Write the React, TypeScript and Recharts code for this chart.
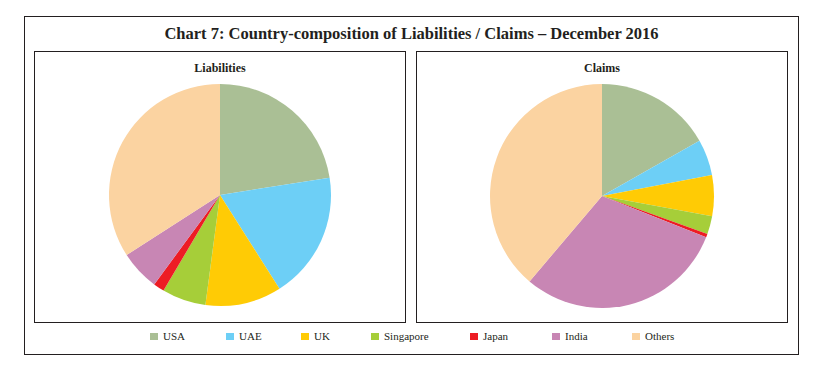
import { PieChart, Pie, Cell, Legend } from 'recharts'

const countries = ['USA', 'UAE', 'UK', 'Singapore', 'Japan', 'India', 'Others']
const liabilities = [22.5, 18.5, 11.1, 6.4, 1.6, 5.8, 34.1]
const claims = [16.8, 5.2, 5.9, 2.6, 0.5, 30.2, 38.8]
const colors = ['#aabf95', '#6dcff6', '#ffcb05', '#a6ce39', '#ed1c24', '#c886b4', '#fbd3a1']

// left edge of each legend swatch
const legendX = [150, 226, 301, 371, 470, 552, 632]

const liabData = countries.map((name, i) => ({ name, value: liabilities[i] }))
const claimData = countries.map((name, i) => ({ name, value: claims[i] }))

const font = '"Liberation Serif", "Times New Roman", serif'
const ink = '#231f20'

function LegendRow() {
  return (
    <div style={{ position: 'relative', height: 16, fontFamily: font, fontSize: 11, color: ink }}>
      {countries.map((c, i) => (
        <div key={c} style={{ position: 'absolute', left: legendX[i], top: 0, height: 16, display: 'flex', alignItems: 'center' }}>
          <span style={{ width: 8, height: 7, background: colors[i], marginRight: 5, display: 'inline-block' }} />
          <span>{c}</span>
        </div>
      ))}
    </div>
  )
}

const box = (left: number, top: number, width: number, height: number) => ({
  position: 'absolute' as const,
  left,
  top,
  width,
  height,
  border: `1.5px solid ${ink}`,
  boxSizing: 'border-box' as const,
})

export default function App() {
  return (
    <div style={{ position: 'absolute', left: 0, top: 0, width: 824, height: 376, background: '#fff', fontFamily: font }}>
      <div style={box(24, 16, 775, 339)} />
      <div style={box(34, 51, 372, 272)} />
      <div style={box(416, 51, 372, 272)} />
      <div style={{ position: 'absolute', left: 24, top: 24, width: 775, textAlign: 'center', fontWeight: 'bold', fontSize: 16.5, color: ink }}>
        Chart 7: Country-composition of Liabilities / Claims – December 2016
      </div>
      <div style={{ position: 'absolute', left: 34, top: 61, width: 372, textAlign: 'center', fontWeight: 'bold', fontSize: 12, color: ink }}>
        Liabilities
      </div>
      <div style={{ position: 'absolute', left: 416, top: 61, width: 372, textAlign: 'center', fontWeight: 'bold', fontSize: 12, color: ink }}>
        Claims
      </div>
      <div style={{ position: 'absolute', left: 0, top: 0 }}>
        <PieChart width={824} height={376} margin={{ top: 0, right: 0, bottom: 0, left: 0 }}>
          <Pie
            data={liabData}
            dataKey="value"
            nameKey="name"
            cx={220}
            cy={195}
            outerRadius={111}
            startAngle={90}
            endAngle={-270}
            stroke="none"
            isAnimationActive={false}
          >
            {liabData.map((d, i) => (
              <Cell key={d.name} fill={colors[i]} />
            ))}
          </Pie>
          <Pie
            data={claimData}
            dataKey="value"
            nameKey="name"
            cx={602}
            cy={196}
            outerRadius={112}
            startAngle={90}
            endAngle={-270}
            stroke="none"
            legendType="none"
            isAnimationActive={false}
          >
            {claimData.map((d, i) => (
              <Cell key={d.name} fill={colors[i]} />
            ))}
          </Pie>
          <Legend
            content={() => <LegendRow />}
            wrapperStyle={{ position: 'absolute', left: 0, top: 328, width: 824, height: 16 }}
          />
        </PieChart>
      </div>
    </div>
  )
}
